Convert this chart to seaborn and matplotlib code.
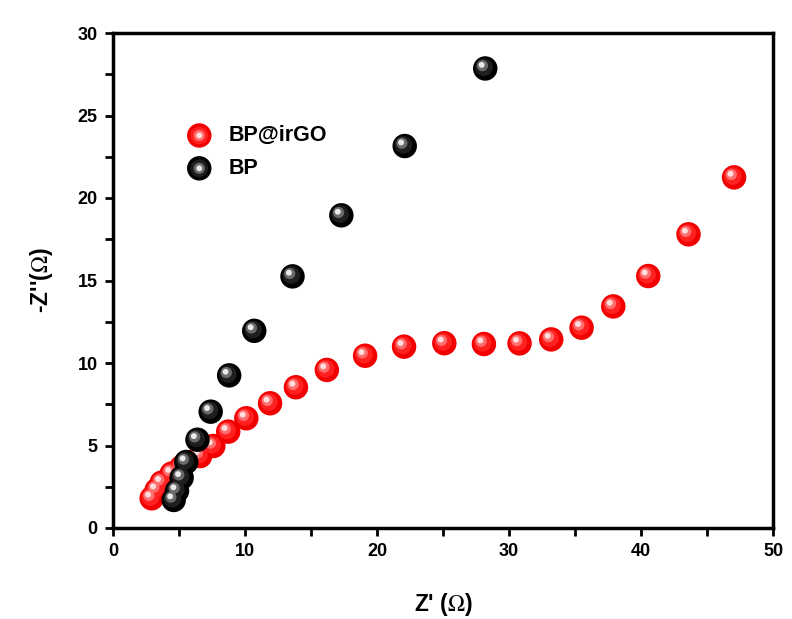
import matplotlib
matplotlib.use("Agg")
import matplotlib.pyplot as plt
import matplotlib.transforms as mtransforms
from matplotlib.legend_handler import HandlerTuple
from matplotlib.ticker import MultipleLocator
import seaborn as sns
import pandas as pd

# ---- data ----
bpirgo_x = [2.93, 3.31, 3.69, 4.45, 5.2, 6.6, 7.6, 8.73, 10.1, 11.9, 13.86, 16.2,
            19.1, 22.05, 25.1, 28.1, 30.8, 33.2, 35.5, 37.9, 40.55, 43.6, 47.05]
bpirgo_y = [1.8, 2.3, 2.75, 3.3, 3.7, 4.36, 4.97, 5.84, 6.65, 7.56, 8.53, 9.58,
            10.44, 10.99, 11.2, 11.15, 11.19, 11.43, 12.14, 13.43, 15.27, 17.8, 21.25]
bp_x = [4.6, 4.85, 5.2, 5.55, 6.4, 7.4, 8.8, 10.7, 13.6, 17.3, 22.1, 28.2]
bp_y = [1.7, 2.25, 3.05, 4.0, 5.35, 7.05, 9.25, 11.95, 15.25, 18.95, 23.15, 27.85]

series_names = ["BP@irGO", "BP"]
x_ticks = [0, 10, 20, 30, 40, 50]
y_ticks = [0, 5, 10, 15, 20, 25, 30]

df_red = pd.DataFrame({"x": bpirgo_x, "y": bpirgo_y})
df_blk = pd.DataFrame({"x": bp_x, "y": bp_y})

sns.set_style("white")
plt.rcParams["font.family"] = ["Liberation Sans", "DejaVu Sans"]
plt.rcParams["mathtext.fontset"] = "stix"
plt.rcParams["text.color"] = "black"
plt.rcParams["axes.labelcolor"] = "black"
plt.rcParams["xtick.color"] = "black"
plt.rcParams["ytick.color"] = "black"

fig = plt.figure(figsize=(7.92, 6.19), dpi=100)
ax = fig.add_axes([113 / 792, 1 - 528 / 619, 660 / 792, 495 / 619])

# sphere-like shading layers: (color, size, offset in dots)
red_layers = [("#f20000", 310, 0), ("#ff2020", 160, 1.2), ("#ff6e6e", 65, 2.8), ("#ffdede", 18, 3.6)]
blk_layers = [("#000000", 310, 0), ("#1e1e1e", 160, 1.2), ("#6a6a6a", 65, 2.8), ("#eaeaea", 18, 3.6)]

handles = []
for df, layers in [(df_red, red_layers), (df_blk, blk_layers)]:
    colls = []
    for col, s, off in layers:
        tr = mtransforms.offset_copy(ax.transData, fig=fig, x=-off, y=off, units="dots")
        sns.scatterplot(data=df, x="x", y="y", ax=ax, color=col, s=s,
                        edgecolor="none", linewidth=0, transform=tr, zorder=3)
        colls.append(ax.collections[-1])
    handles.append(tuple(colls))

ax.set_xlim(0, 50)
ax.set_ylim(0, 30)
ax.set_xticks(x_ticks)
ax.set_yticks(y_ticks)
ax.xaxis.set_minor_locator(MultipleLocator(5))
ax.yaxis.set_minor_locator(MultipleLocator(2.5))
ax.tick_params(axis="both", which="both", direction="out", width=2, length=6,
               labelsize=13, bottom=True, left=True, top=False, right=False)
ax.tick_params(axis="both", which="major", pad=5)
for lab in ax.get_xticklabels() + ax.get_yticklabels():
    lab.set_fontweight("bold")
for sp in ax.spines.values():
    sp.set_linewidth(2.5)
    sp.set_color("black")

ax.set_xlabel(r"Z' ($\Omega$)", fontsize=16.5, fontweight="bold", labelpad=22)
ax.set_ylabel(r"-Z''($\Omega$)", fontsize=16.5, fontweight="bold", labelpad=16)

leg = ax.legend(handles, series_names, handler_map={tuple: HandlerTuple(ndivide=1, pad=0)},
                loc="upper left", bbox_to_anchor=(0.072, 0.853), frameon=False,
                prop={"weight": "bold", "size": 15.5}, handletextpad=0.45,
                handlelength=1.8, labelspacing=0.55)

fig.savefig("out.png", dpi=100)
